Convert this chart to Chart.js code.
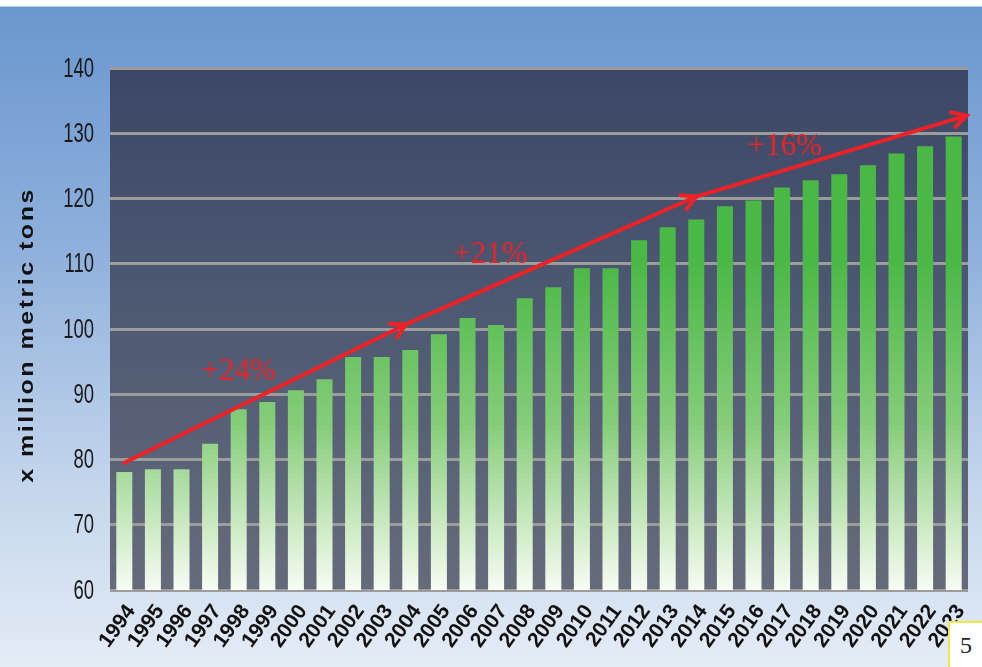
<!DOCTYPE html>
<html>
<head>
<meta charset="utf-8">
<script src="https://cdn.jsdelivr.net/npm/chart.js@4/dist/chart.umd.min.js"></script>
<style>
  html, body { margin: 0; padding: 0; }
  body {
    width: 982px; height: 667px; overflow: hidden; position: relative;
    background: linear-gradient(to bottom, #ffffff 0px, #ffffff 6px, #6a97cf 7px, #8fb0dc 250px, #c3d5ec 480px, #e4ecf6 667px);
  }
  #wrap { position: absolute; left: 0; top: 0; width: 982px; height: 667px; }
  #page {
    position: absolute; left: 948px; top: 621px; width: 32px; height: 44px;
    background: #fff; border: 2px solid #f2e64a; border-right: none;
    font: 24px "Liberation Serif", serif; color: #222; text-align: center; line-height: 44px;
  }
</style>
</head>
<body>
<div id="wrap"><canvas id="myChart" width="982" height="667"></canvas></div>
<div id="page">5</div>
<script>
const years = ['1994','1995','1996','1997','1998','1999','2000','2001','2002','2003',
  '2004','2005','2006','2007','2008','2009','2010','2011','2012','2013',
  '2014','2015','2016','2017','2018','2019','2020','2021','2022','2023'];
const production = [78.1, 78.5, 78.5, 82.4, 87.7, 88.8, 90.6, 92.3, 95.7, 95.7,
  96.8, 99.2, 101.7, 100.6, 104.7, 106.4, 109.3, 109.3, 113.6, 115.6,
  116.8, 118.8, 119.7, 121.7, 122.8, 123.7, 125.1, 126.9, 128.0, 129.5];
const yTicks = [60, 70, 80, 90, 100, 110, 120, 130, 140];
const yTitle = 'x million metric tons';

// trend arrows (category index, value)
const arrowFromIdx = [0, 9.85, 20.0];
const arrowFromVal = [79.5, 100.7, 120.3];
const arrowToIdx = [9.85, 20.0, 29.45];
const arrowToVal = [100.7, 120.3, 132.7];
const growthLabels = ['+24%', '+21%', '+16%'];
const growthIdx = [4.0, 12.8, 23.1];
const growthVal = [93.4, 111.4, 127.9];

const plotBackground = {
  id: 'plotBackground',
  beforeDraw(chart) {
    const {ctx, chartArea: a} = chart;
    const g = ctx.createLinearGradient(0, a.top, 0, a.bottom);
    g.addColorStop(0, '#3c4767');
    g.addColorStop(0.5, '#4f5a73');
    g.addColorStop(1, '#656b7b');
    ctx.save();
    ctx.fillStyle = g;
    ctx.fillRect(a.left, a.top, a.right - a.left, a.bottom - a.top);
    ctx.restore();
  }
};

// narrow tick numbers and the stretched axis title
const yAxisText = {
  id: 'yAxisText',
  afterDraw(chart) {
    const ctx = chart.ctx;
    const y = chart.scales.y;
    ctx.save();
    ctx.fillStyle = '#1a1a1a';
    ctx.font = '28px "Liberation Sans", Arial, sans-serif';
    ctx.textAlign = 'right';
    ctx.textBaseline = 'middle';
    yTicks.forEach(v => {
      ctx.save();
      ctx.translate(94, y.getPixelForValue(v) + 1);
      ctx.scale(0.66, 1);
      ctx.fillText(String(v), 0, 0);
      ctx.restore();
    });
    ctx.save();
    ctx.translate(27, (y.top + y.bottom) / 2 + 6);
    ctx.rotate(-Math.PI / 2);
    ctx.scale(1.25, 1);
    ctx.fillStyle = '#111';
    ctx.font = 'bold 20px "Liberation Sans", Arial, sans-serif';
    ctx.letterSpacing = '2px';
    ctx.textAlign = 'center';
    ctx.textBaseline = 'middle';
    ctx.fillText(yTitle, 0, 0);
    ctx.restore();
    ctx.restore();
  }
};

const trendArrows = {
  id: 'trendArrows',
  afterDatasetsDraw(chart) {
    const ctx = chart.ctx;
    const x = chart.scales.x, y = chart.scales.y;
    ctx.save();
    ctx.strokeStyle = '#ec2227';
    ctx.fillStyle = '#ec2227';
    ctx.lineWidth = 4;
    ctx.lineCap = 'round';
    for (let i = 0; i < arrowFromIdx.length; i++) {
      let x1 = x.getPixelForValue(arrowFromIdx[i]), y1 = y.getPixelForValue(arrowFromVal[i]);
      let x2 = x.getPixelForValue(arrowToIdx[i]), y2 = y.getPixelForValue(arrowToVal[i]);
      ctx.beginPath();
      ctx.moveTo(x1, y1);
      ctx.lineTo(x2, y2);
      ctx.stroke();
      let ang = Math.atan2(y2 - y1, x2 - x1);
      ctx.beginPath();
      ctx.moveTo(x2 - 16 * Math.cos(ang - 0.5), y2 - 16 * Math.sin(ang - 0.5));
      ctx.lineTo(x2, y2);
      ctx.lineTo(x2 - 16 * Math.cos(ang + 0.5), y2 - 16 * Math.sin(ang + 0.5));
      ctx.stroke();
    }
    ctx.font = '31px "Liberation Serif", serif';
    ctx.textAlign = 'center';
    ctx.textBaseline = 'middle';
    for (let i = 0; i < growthLabels.length; i++) {
      ctx.fillText(growthLabels[i], x.getPixelForValue(growthIdx[i]), y.getPixelForValue(growthVal[i]));
    }
    ctx.restore();
  }
};

function barFill(context) {
  const chart = context.chart;
  const a = chart.chartArea;
  if (!a) return '#4bb846';
  const g = chart.ctx.createLinearGradient(0, a.bottom, 0, a.bottom - 330);
  g.addColorStop(0, '#f7fcf4');
  g.addColorStop(0.15, '#d6eecd');
  g.addColorStop(0.5, '#86cd7a');
  g.addColorStop(1, '#4ab845');
  return g;
}

const ctx = document.getElementById('myChart');
new Chart(ctx, {
  type: 'bar',
  data: {
    labels: years,
    datasets: [{
      data: production,
      backgroundColor: barFill,
      borderWidth: 0,
      categoryPercentage: 1,
      barPercentage: 0.56
    }]
  },
  options: {
    responsive: false,
    animation: false,
    devicePixelRatio: 1,
    layout: { padding: { left: 0, top: 68, right: 14, bottom: 0 } },
    plugins: { legend: { display: false }, tooltip: { enabled: false } },
    scales: {
      x: {
        grid: { display: false },
        border: { display: false },
        ticks: {
          color: '#111',
          font: { family: '"Liberation Sans", Arial, sans-serif', size: 21, weight: 'bold' },
          autoSkip: false, maxRotation: 54, minRotation: 54, padding: 2, labelOffset: 7
        },
        afterFit(scale) { scale.height = 77; }
      },
      y: {
        min: 60, max: 140,
        ticks: { stepSize: 10, display: false },
        grid: { color: '#9c9c9a', lineWidth: 3, drawTicks: false },
        border: { display: false },
        afterFit(scale) { scale.width = 110; }
      }
    }
  },
  plugins: [plotBackground, trendArrows, yAxisText]
});
</script>
</body>
</html>
